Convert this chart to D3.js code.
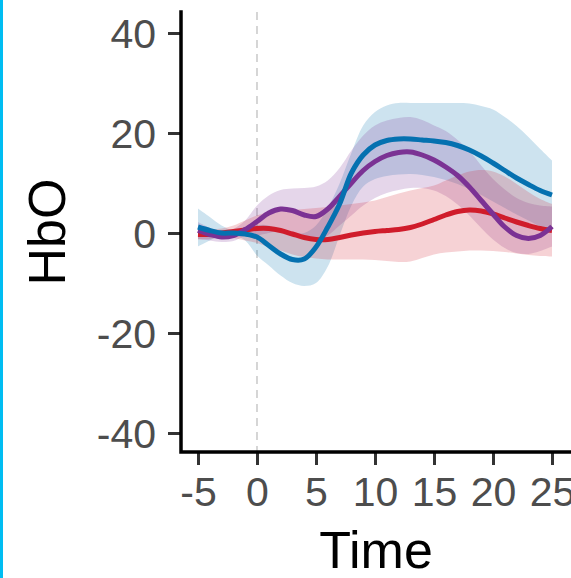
<!DOCTYPE html>
<html>
<head>
<meta charset="utf-8">
<script src="https://cdn.jsdelivr.net/npm/d3@7"></script>
<style>
  body { margin: 0; background: #fff; }
  svg { display: block; font-family: "Liberation Sans", Arial, Helvetica, sans-serif; }
</style>
</head>
<body>
<div id="chart"></div>
<script>
// time points (s)
const time = [-5,-4,-3,-2,-1,0,1,2,3,4,5,6,7,8,9,10,11,12,13,14,15,16,17,18,19,20,21,22,23,24,25];

// blue condition
const blueMean = [1.2,0.5,0,0,-0.2,-0.8,-2.5,-4.2,-5.3,-5.2,-2.8,1.2,5.8,12,15.6,17.6,18.5,18.8,18.8,18.6,18.4,18.1,17.5,16.6,15.4,14,12.5,11,9.7,8.5,7.6];
const blueLo   = [-2.7,-1.5,-0.5,-0.3,-1.5,-4.5,-6.5,-8.5,-10,-10.6,-10,-6.7,-0.5,5.5,9.3,10.8,11.4,11.7,11.8,11.6,11.2,10.6,9.8,8.8,7.6,6.3,5,3.7,2.5,1.3,0.5];
const blueHi   = [4.9,3.2,1.5,0.5,0.3,1.5,1.5,0.5,0,0,1.5,5,9.9,16,21.5,24.2,25.5,26,26,26,26,26,26,25.9,25.4,24.7,23.2,21.4,19.2,16.8,14.5];

// purple condition
const purpleMean = [0.5,-0.3,-0.8,-0.5,0.7,2.3,4,4.8,4.5,3.6,3.3,4.8,7.3,10,12.5,14.3,15.5,16.1,16.2,15.6,14.6,13.2,11.5,9.2,6.5,3.8,1.2,-0.5,-1.1,-0.5,1.3];
const purpleLo   = [-1.2,-1.5,-1.8,-1.6,-0.6,-0.5,0,0.5,0,-1,-1.5,-0.5,1.5,3.5,5.5,7,8,8.6,9,9,8.5,7.4,5.7,3.5,1,-1.3,-3,-4,-4.2,-3.6,-2.7];
const purpleHi   = [2.2,1,0.2,0.8,2.5,5.5,7.5,8.6,8.9,9,9.3,10.5,13,16.5,19.5,21.5,22.5,23,23.2,22.6,21.5,20.4,18.6,16.4,13.5,10.8,8.7,7,6,5.5,5.3];

// red condition
const redMean = [-0.3,-0.3,0,0.3,0.6,0.9,0.9,0.5,-0.2,-0.9,-1.3,-1.3,-0.9,-0.4,0,0.3,0.5,0.7,1.1,1.8,2.7,3.6,4.3,4.6,4.4,3.8,3,2.2,1.5,0.9,0.5];
const redLo   = [-1.3,-1.2,-0.8,-1,-1.5,-2,-2.8,-3.5,-4.3,-4.8,-5.1,-5.3,-5.3,-5.3,-5.3,-5.4,-5.6,-5.8,-5.7,-5,-4.3,-3.9,-3.7,-3.5,-3.5,-3.6,-3.8,-4.1,-4.4,-4.6,-4.7];
const redHi   = [0.9,0.8,0.9,1.5,2.5,3.5,4.2,4.5,4.6,4.8,5,5.2,5.5,5.8,6.1,6.5,7.2,7.9,8.5,9,9.5,10.5,11.5,12.3,12.6,12.3,11.3,9.8,8.2,6.8,5.8];

const xTicks = [-5,0,5,10,15,20,25];
const yTicks = [-40,-20,0,20,40];

const series = [
  { name: "blue",   color: "#0571b0", mean: blueMean,   lo: blueLo,   hi: blueHi },
  { name: "purple", color: "#7b3294", mean: purpleMean, lo: purpleLo, hi: purpleHi },
  { name: "red",    color: "#d01c2b", mean: redMean,    lo: redLo,    hi: redHi }
];

const W = 571, H = 578;
const svg = d3.select("#chart").append("svg")
  .attr("width", W).attr("height", H);

// strip on the left edge
svg.append("rect").attr("x", 0).attr("y", 0).attr("width", 3).attr("height", H).attr("fill", "#00bdf2");

const panel = { left: 181, right: 571, top: 12, bottom: 452 };

const x = d3.scaleLinear().domain([-6.44, 26.61]).range([panel.left, panel.right]);
const y = d3.scaleLinear().domain([-43.8, 44.2]).range([panel.bottom, panel.top]);

// dashed line at stimulus onset
svg.append("line")
  .attr("x1", x(0)).attr("x2", x(0))
  .attr("y1", panel.top).attr("y2", panel.bottom)
  .attr("stroke", "#cccccc").attr("stroke-width", 1.6)
  .attr("stroke-dasharray", "8,6");

const curve = d3.curveCatmullRom.alpha(0.5);

const area = s => d3.area()
  .x((d, i) => x(time[i]))
  .y0((d, i) => y(s.lo[i]))
  .y1((d, i) => y(s.hi[i]))
  .curve(curve)(time);

const line = s => d3.line()
  .x((d, i) => x(time[i]))
  .y((d, i) => y(s.mean[i]))
  .curve(curve)(time);

svg.append("g").selectAll("path")
  .data(series)
  .enter()
  .append("path")
  .attr("d", area)
  .attr("fill", d => d.color)
  .attr("fill-opacity", 0.2);

svg.append("g").selectAll("path")
  .data(series.slice().reverse())
  .enter()
  .append("path")
  .attr("d", line)
  .attr("fill", "none")
  .attr("stroke", d => d.color)
  .attr("stroke-width", 5)
  .attr("stroke-linejoin", "round");

// axes (plain hyphen for negatives, like the original)
const fmt = d => String(d);
const xAxis = svg.append("g")
  .attr("transform", "translate(0," + panel.bottom + ")")
  .call(d3.axisBottom(x).tickValues(xTicks).tickFormat(fmt).tickSize(13).tickSizeOuter(0).tickPadding(12));
const yAxis = svg.append("g")
  .attr("transform", "translate(" + panel.left + ",0)")
  .call(d3.axisLeft(y).tickValues(yTicks).tickFormat(fmt).tickSize(13).tickSizeOuter(0).tickPadding(12));

[xAxis, yAxis].forEach(g => {
  g.select(".domain").remove();
  g.selectAll(".tick line").attr("stroke", "#333333").attr("stroke-width", 3);
  g.selectAll(".tick text")
    .attr("fill", "#4d4d4d")
    .style("font-size", "41px")
    .style("font-family", "'Liberation Sans', Arial, sans-serif");
});
yAxis.selectAll(".tick text").attr("dy", "0.36em");

// axis lines
svg.append("path")
  .attr("d", "M" + panel.left + "," + panel.top + "V" + panel.bottom + "H" + panel.right)
  .attr("fill", "none").attr("stroke", "#000").attr("stroke-width", 3.5)
  .attr("stroke-linecap", "square");

// titles
svg.append("text")
  .attr("x", (panel.left + panel.right) / 2)
  .attr("y", 568)
  .attr("text-anchor", "middle")
  .style("font-size", "52px")
  .text("Time");

svg.append("text")
  .attr("transform", "translate(65," + ((panel.top + panel.bottom) / 2) + ") rotate(-90)")
  .attr("text-anchor", "middle")
  .style("font-size", "52px")
  .text("HbO");
</script>
</body>
</html>
